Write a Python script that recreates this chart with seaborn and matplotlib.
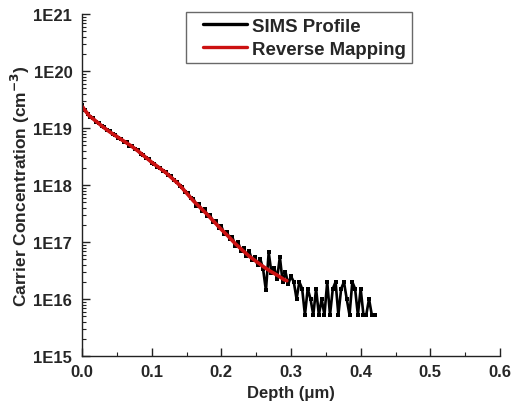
import numpy as np
import pandas as pd
import matplotlib
matplotlib.use("Agg")
import matplotlib.pyplot as plt
import seaborn as sns
from matplotlib.ticker import LogLocator, NullFormatter, MultipleLocator, FixedLocator, FixedFormatter
from matplotlib.legend_handler import HandlerLine2D

# ---------------- data ----------------
sims_depth = [
    0.000, 0.004, 0.008, 0.012, 0.016, 0.020, 0.024, 0.028, 0.032, 0.036,
    0.040, 0.044, 0.048, 0.052, 0.056, 0.060, 0.064, 0.068, 0.072, 0.076,
    0.080, 0.084, 0.088, 0.092, 0.096, 0.100, 0.104, 0.108, 0.112, 0.116,
    0.120, 0.124, 0.128, 0.132, 0.136, 0.140, 0.144, 0.148, 0.152, 0.156,
    0.160, 0.164, 0.168, 0.172, 0.176, 0.180, 0.184, 0.188, 0.192, 0.196,
    0.200, 0.204, 0.208, 0.212, 0.216, 0.220, 0.224, 0.228, 0.232, 0.236,
    0.240, 0.244, 0.248, 0.252, 0.256, 0.260, 0.264, 0.268, 0.272, 0.276,
    0.280, 0.284, 0.288, 0.292, 0.296, 0.300, 0.304, 0.308, 0.312, 0.316,
    0.320, 0.324, 0.328, 0.332, 0.336, 0.340, 0.344, 0.348, 0.352, 0.356,
    0.360, 0.364, 0.368, 0.372, 0.376, 0.380, 0.384, 0.388, 0.392, 0.396,
    0.400, 0.404, 0.408, 0.412, 0.416, 0.420,
]
# log10 of carrier concentration (cm^-3)
sims_log10 = [
    19.40, 19.31, 19.25, 19.19, 19.17, 19.11, 19.09, 19.03, 19.01, 18.96,
    18.94, 18.89, 18.88, 18.83, 18.81, 18.76, 18.75, 18.69, 18.68, 18.63,
    18.61, 18.55, 18.53, 18.47, 18.45, 18.39, 18.37, 18.32, 18.30, 18.25,
    18.23, 18.17, 18.15, 18.08, 18.06, 17.99, 17.96, 17.87, 17.86, 17.77,
    17.76, 17.64, 17.66, 17.55, 17.58, 17.46, 17.47, 17.35, 17.36, 17.25,
    17.28, 17.14, 17.18, 17.05, 17.08, 16.93, 17.00, 16.85, 16.90, 16.76,
    16.84, 16.68, 16.74, 16.60, 16.70, 16.52, 16.15, 16.82, 16.45, 16.55,
    16.35, 16.74, 16.30, 16.48, 16.26, 16.40, 16.30, 16.00, 16.30, 16.18,
    15.72, 16.18, 16.00, 15.72, 16.18, 15.72, 16.00, 15.72, 16.30, 15.72,
    16.18, 16.30, 15.72, 16.18, 16.30, 16.00, 15.72, 16.30, 16.18, 15.72,
    16.18, 15.72, 15.72, 16.00, 15.72, 15.72,
]

rev_depth = [0.00, 0.01, 0.02, 0.03, 0.04, 0.05, 0.06, 0.07, 0.08, 0.09,
             0.10, 0.11, 0.12, 0.13, 0.14, 0.15, 0.16, 0.17, 0.18, 0.19,
             0.20, 0.21, 0.22, 0.23, 0.24, 0.25, 0.26, 0.27, 0.28, 0.29, 0.294]
rev_log10 = [19.38, 19.22, 19.12, 19.02, 18.93, 18.85, 18.77, 18.69, 18.60, 18.50,
             18.40, 18.31, 18.22, 18.11, 18.00, 17.86, 17.72, 17.60, 17.48, 17.35,
             17.22, 17.10, 16.97, 16.86, 16.75, 16.66, 16.57, 16.49, 16.42, 16.34, 16.32]

y_ticks = [1e15, 1e16, 1e17, 1e18, 1e19, 1e20, 1e21]
y_tick_labels = ["1E15", "1E16", "1E17", "1E18", "1E19", "1E20", "1E21"]
x_ticks = [0.0, 0.1, 0.2, 0.3, 0.4, 0.5, 0.6]
x_tick_labels = ["0.0", "0.1", "0.2", "0.3", "0.4", "0.5", "0.6"]

sims_df = pd.DataFrame({"depth": sims_depth, "conc": 10 ** np.array(sims_log10)})
rev_df = pd.DataFrame({"depth": rev_depth, "conc": 10 ** np.array(rev_log10)})


class InsetLineHandler(HandlerLine2D):
    """Legend handle drawn only on the right part of the handle box."""
    def get_xdata(self, legend, xdescent, ydescent, width, height, fontsize):
        x0 = -xdescent + 0.2 * width
        x1 = -xdescent + width
        return np.array([x0, x1]), np.array([0.5 * (x0 + x1)])


# ---------------- style ----------------
sns.set_theme(style="ticks")
plt.rcParams["font.family"] = ["Liberation Sans", "DejaVu Sans"]
plt.rcParams["font.weight"] = "bold"
plt.rcParams["axes.labelweight"] = "bold"
plt.rcParams["mathtext.default"] = "bf"

fig = plt.figure(figsize=(5.17, 4.10), dpi=100)
ax = fig.add_axes([82 / 517, 53 / 410, 418 / 517, 342 / 410])

sns.lineplot(data=sims_df, x="depth", y="conc", ax=ax, color="black",
             linewidth=1.9, marker="s", markersize=3.0, markeredgewidth=0,
             label="SIMS Profile", estimator=None, sort=False)
sns.lineplot(data=rev_df, x="depth", y="conc", ax=ax, color="#cc1111",
             linewidth=2.6, label="Reverse Mapping", estimator=None, sort=False)

ax.set_yscale("log")
ax.set_ylim(1e15, 1e21)
ax.set_xlim(0.0, 0.6)

ax.yaxis.set_major_locator(FixedLocator(y_ticks))
ax.yaxis.set_major_formatter(FixedFormatter(y_tick_labels))
ax.yaxis.set_minor_locator(LogLocator(base=10, subs=np.arange(2, 10), numticks=20))
ax.yaxis.set_minor_formatter(NullFormatter())
ax.xaxis.set_major_locator(FixedLocator(x_ticks))
ax.xaxis.set_major_formatter(FixedFormatter(x_tick_labels))
ax.xaxis.set_minor_locator(MultipleLocator(0.05))

ax.tick_params(axis="both", which="major", direction="in", length=6, width=1,
               labelsize=12, color="#222222")
ax.tick_params(axis="y", which="major", pad=7)
ax.tick_params(axis="x", which="major", pad=6)
ax.tick_params(axis="both", which="minor", direction="in", length=3, width=0.8,
               color="#222222")
for lab in ax.get_xticklabels() + ax.get_yticklabels():
    lab.set_fontweight("bold")

for side in ["top", "right"]:
    ax.spines[side].set_visible(False)
for side in ["left", "bottom"]:
    ax.spines[side].set_linewidth(1.0)
    ax.spines[side].set_color("#222222")

ax.set_xlabel("Depth (μm)", fontsize=12, fontweight="bold", labelpad=4)
ax.set_ylabel("Carrier Concentration (cm$^{-3}$)", fontsize=12.5,
              fontweight="bold", labelpad=1)

handles, labels = ax.get_legend_handles_labels()
leg = ax.legend(handles, labels, loc="upper left",
                bbox_to_anchor=(186 / 517, 1 - 13 / 410),
                bbox_transform=fig.transFigure, frameon=True, fancybox=False,
                prop={"weight": "bold", "size": 13.4}, handlelength=3.0,
                handletextpad=0.25, borderpad=0.3, labelspacing=0.32,
                borderaxespad=0,
                handler_map={h: InsetLineHandler() for h in handles})
leg.get_frame().set_edgecolor("#444444")
leg.get_frame().set_linewidth(1.0)
for h in leg.get_lines():
    h.set_marker("")
    h.set_linewidth(2.4)

fig.savefig("out.png", dpi=100)
